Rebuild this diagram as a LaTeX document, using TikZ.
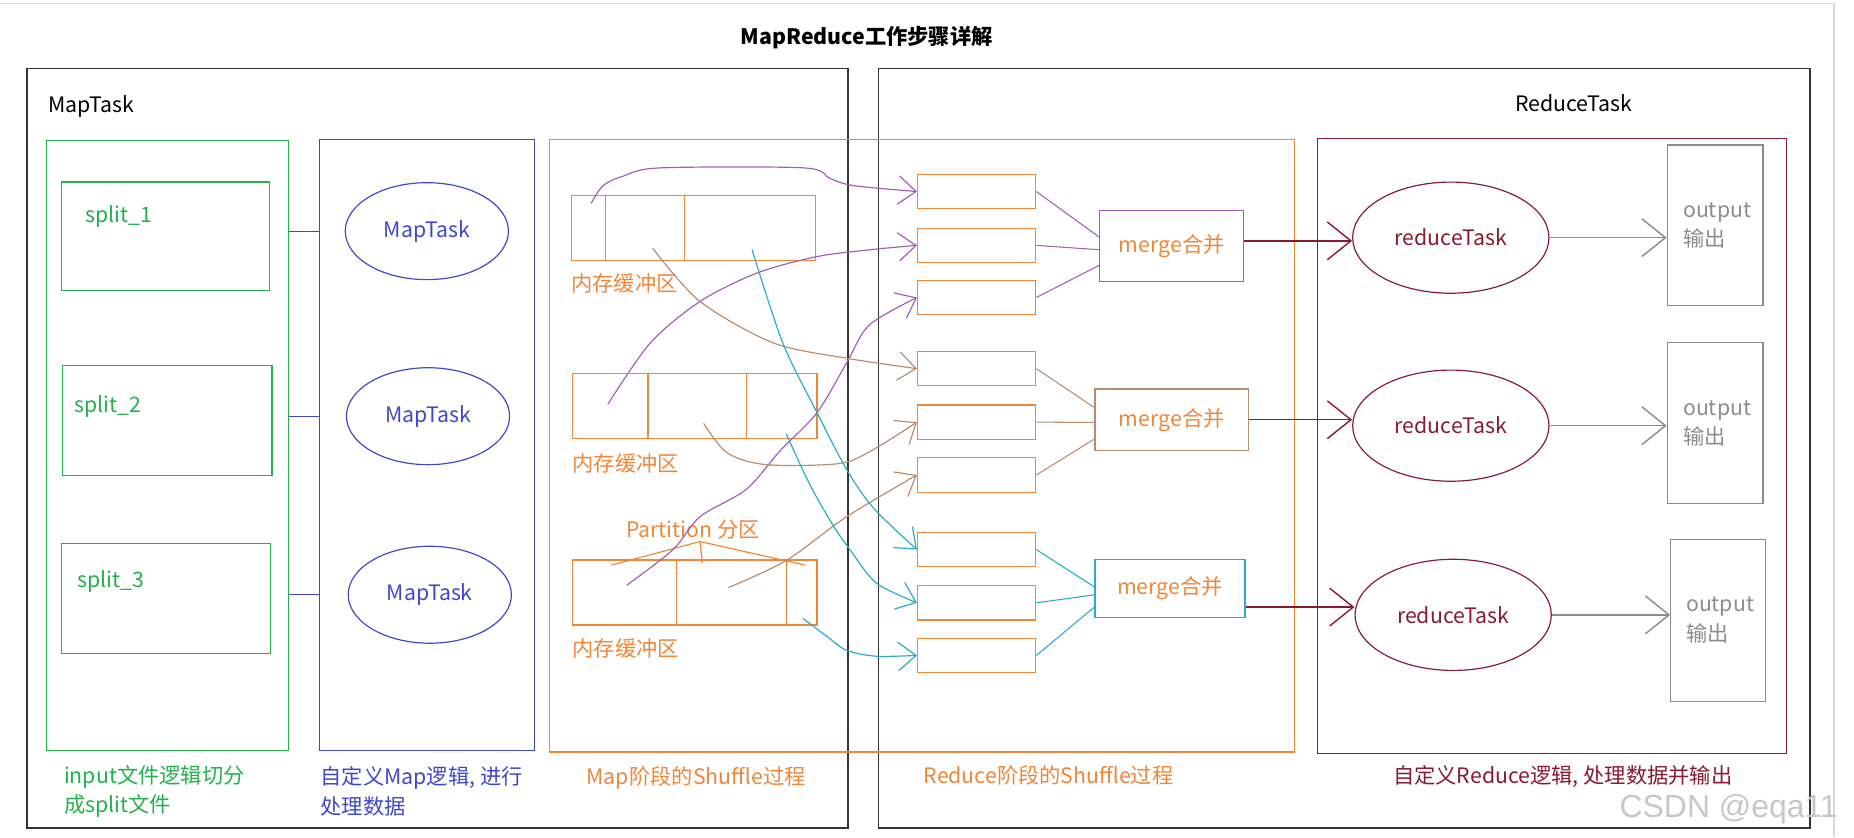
\documentclass[tikz,border=0pt]{standalone}
\usepackage{fontspec}
\setmainfont{Noto Sans CJK SC}
\newfontfamily\markfont{Liberation Sans}
\usetikzlibrary{arrows.meta,shapes.geometric}
\definecolor{mrgreen}{RGB}{34,177,76}
\definecolor{mrblue}{RGB}{63,72,204}
\definecolor{mrorange}{RGB}{240,134,56}
\definecolor{mrpurple}{RGB}{163,95,181}
\definecolor{mrbrown}{RGB}{185,140,110}
\definecolor{mrcyan}{RGB}{40,172,200}
\definecolor{mrmaroon}{RGB}{136,26,50}
\definecolor{mrgray}{RGB}{140,140,140}
\begin{document}
\begin{tikzpicture}
    [x=1pt, y=-1pt,
      every node/.style={font=\fontsize{18}{25}\selectfont, inner sep=0pt},
      outer/.style={draw=black!80, rectangle, line width=1.4pt},
      box/.style={draw, rectangle, line width=1pt},
      task/.style={draw, ellipse, line width=1pt},
      divider/.style={mrorange, line width=1pt},
      joinline/.style={line width=0.9pt},
      shuffle/.style={line width=1pt, -{Straight Barb[length=15pt, width=24pt]}},
      bigarrow/.style={line width=1.2pt, -{Straight Barb[length=20pt, width=32pt]}}]
    \useasboundingbox (0,0) rectangle (1568,708);
    \draw[black!15, line width=1.5pt] (0,3) -- (1551,3) -- (1551,708);
    \node[font=\fontsize{18}{25}\selectfont\bfseries] (title) at (733,32) {MapReduce工作步骤详解};

    \node[outer, minimum width=694pt, minimum height=642pt] (maptask) at (370,379) {};
    \node[outer, minimum width=788pt, minimum height=642pt] (reducetask) at (1137,379) {};
    \node[anchor=west] (maptasklabel) at (41,90) {MapTask};
    \node (reducetasklabel) at (1331,87) {ReduceTask};

    \node[box, draw=mrgreen, minimum width=205pt, minimum height=516pt] (input) at (141.5,377) {};
    \node[box, draw=mrgreen, minimum width=176pt, minimum height=92pt] (split1) at (140,200) {};
    \node[box, draw=mrgreen, minimum width=177pt, minimum height=93pt] (split2) at (141.5,355.5) {};
    \node[box, draw=mrgreen, minimum width=177pt, minimum height=93pt] (split3) at (140.5,506.5) {};
    \node[anchor=west, text=mrgreen] (split1name) at (72,183) {split\_1};
    \node[anchor=west, text=mrgreen] (split2name) at (63,344) {split\_2};
    \node[anchor=west, text=mrgreen] (split3name) at (65,492) {split\_3};
    \node[anchor=north west, align=left, text=mrgreen] (inputlabel) at (54,647) {input文件逻辑切分\\成split文件};

    \node[box, draw=mrblue, minimum width=182pt, minimum height=517pt] (mapper) at (361,376.5) {};
    \node[task, draw=mrblue, text=mrblue, minimum width=138pt, minimum height=82pt] (mt1) at (361,195.5) {MapTask};
    \node[task, draw=mrblue, text=mrblue, minimum width=138pt, minimum height=82pt] (mt2) at (362,352) {MapTask};
    \node[task, draw=mrblue, text=mrblue, minimum width=138pt, minimum height=82pt] (mt3) at (363.5,503) {MapTask};
    \node[anchor=north west, align=left, text=mrblue] (mapperlabel) at (271,648) {自定义Map逻辑, 进行\\处理数据};
    \draw[mrblue, line width=1pt] (input.east |- mt1) -- (mapper.west |- mt1);
    \draw[mrblue, line width=1pt] (input.east |- mt2) -- (mapper.west |- mt2);
    \draw[mrblue, line width=1pt] (input.east |- mt3) -- (mapper.west |- mt3);

    \node[box, draw=mrorange, minimum width=630pt, minimum height=518pt] (shuffle) at (780,377) {};
    \node[anchor=north west, text=mrorange] (mapshufflelabel) at (496,648) {Map阶段的Shuffle过程};
    \node[anchor=north west, text=mrorange] (reduceshufflelabel) at (781,647) {Reduce阶段的Shuffle过程};

    \node[box, draw=mrorange, minimum width=207pt, minimum height=55pt] (buf1) at (586.5,192.5) {};
    \node[box, draw=mrorange, minimum width=207pt, minimum height=55pt] (buf2) at (587.5,343.2) {};
    \node[box, draw=mrorange, minimum width=207pt, minimum height=55pt] (buf3) at (587.5,501.1) {};
    \draw[divider] (512,0 |- buf1.north) -- (512,0 |- buf1.south);
    \draw[divider] (579,0 |- buf1.north) -- (579,0 |- buf1.south);
    \draw[divider] (548,0 |- buf2.north) -- (548,0 |- buf2.south);
    \draw[divider] (631,0 |- buf2.north) -- (631,0 |- buf2.south);
    \draw[divider] (572,0 |- buf3.north) -- (572,0 |- buf3.south);
    \draw[divider] (665,0 |- buf3.north) -- (665,0 |- buf3.south);
    \node[anchor=west, text=mrorange] (buf1label) at (483,240) {内存缓冲区};
    \node[anchor=west, text=mrorange] (buf2label) at (484,392) {内存缓冲区};
    \node[anchor=west, text=mrorange] (buf3label) at (484,548) {内存缓冲区};
    \node[text=mrorange] (partition) at (586,448) {Partition 分区};
    \draw[divider] (517,478) -- (592,458) -- (681,478);
    \draw[divider] (592,458) -- (594,476);

    \node[box, draw=mrorange, minimum width=100pt, minimum height=29pt] (r1) at (826,162) {};
    \node[box, draw=mrorange, minimum width=100pt, minimum height=29pt] (r2) at (826,207.5) {};
    \node[box, draw=mrorange, minimum width=100pt, minimum height=29pt] (r3) at (826,251.6) {};
    \node[box, draw=mrorange, minimum width=100pt, minimum height=29pt] (r4) at (826,311.8) {};
    \node[box, draw=mrorange, minimum width=100pt, minimum height=29pt] (r5) at (826,357) {};
    \node[box, draw=mrorange, minimum width=100pt, minimum height=29pt] (r6) at (826,401.7) {};
    \node[box, draw=mrorange, minimum width=100pt, minimum height=29pt] (r7) at (826,464.8) {};
    \node[box, draw=mrorange, minimum width=100pt, minimum height=29pt] (r8) at (826,509.8) {};
    \node[box, draw=mrorange, minimum width=100pt, minimum height=29pt] (r9) at (826,554.3) {};

    \node[box, draw=mrpurple, text=mrorange, minimum width=122pt, minimum height=60pt] (m1) at (991,208) {merge合并};
    \node[box, draw=mrbrown, text=mrorange, minimum width=130pt, minimum height=52pt] (m2) at (991,355) {merge合并};
    \node[box, draw=mrcyan, text=mrorange, minimum width=127pt, minimum height=49pt] (m3) at (989.5,497.5) {merge合并};
    \draw[joinline, mrpurple] (r1.east) -- (m1.173);
    \draw[joinline, mrpurple] (r2.east) -- (m1.183);
    \draw[joinline, mrpurple] (r3.east) -- (m1.195);
    \draw[joinline, mrbrown] (r4.east) -- (m2.171);
    \draw[joinline, mrbrown] (r5.east) -- (m2.182);
    \draw[joinline, mrbrown] (r6.east) -- (m2.194);
    \draw[joinline, mrcyan] (r7.east) -- (m3.179);
    \draw[joinline, mrcyan] (r8.east) -- (m3.185);
    \draw[joinline, mrcyan] (r9.east) -- (m3.194);

    \node[box, draw=mrmaroon, minimum width=397pt, minimum height=520pt] (reducer) at (1312.5,377) {};
    \node[task, draw=mrmaroon, text=mrmaroon, minimum width=166pt, minimum height=94pt] (rt1) at (1227,201) {reduceTask};
    \node[task, draw=mrmaroon, text=mrmaroon, minimum width=166pt, minimum height=94pt] (rt2) at (1227,360) {reduceTask};
    \node[task, draw=mrmaroon, text=mrmaroon, minimum width=166pt, minimum height=94pt] (rt3) at (1229,520) {reduceTask};
    \node[anchor=north west, text=mrmaroon] (reducerlabel) at (1178,647) {自定义Reduce逻辑, 处理数据并输出};
    \draw[bigarrow, mrmaroon] (m1.4) -- (m1.4 -| rt1.west);
    \draw[bigarrow, mrmaroon] (m2.east) -- (m2.east -| rt2.west);
    \draw[bigarrow, mrmaroon] (m3.346) -- (m3.346 -| rt3.west);

    \node[box, draw=mrgray, text=mrgray, minimum width=81pt, minimum height=136pt, align=left, text width=54pt] (out1) at (1450.5,190.7) {output\\输出};
    \node[box, draw=mrgray, text=mrgray, minimum width=81pt, minimum height=136pt, align=left, text width=54pt] (out2) at (1450.5,358) {output\\输出};
    \node[box, draw=mrgray, text=mrgray, minimum width=80pt, minimum height=137pt, align=left, text width=54pt] (out3) at (1453,524.5) {output\\输出};
    \draw[bigarrow, mrgray] (rt1.east) -- (rt1.east -| out1.west);
    \draw[bigarrow, mrgray] (rt2.east) -- (rt2.east -| out2.west);
    \draw[bigarrow, mrgray] (rt3.east) -- (rt3.east -| out3.west);

    \coordinate (p1) at (500,172);
    \coordinate (p2) at (514,342);
    \coordinate (p3) at (530,495);
    \coordinate (q1) at (552,210);
    \coordinate (q2) at (595,358);
    \coordinate (q3) at (616,497);
    \coordinate (c1) at (636,211);
    \coordinate (c2) at (665,367);
    \coordinate (c3) at (679,523);
    \draw[shuffle, mrpurple] plot[smooth] coordinates {(p1) (510,157) (527,149) (558,142) (680,142) (702,151) (722,157) (r1.west)};
    \draw[shuffle, mrpurple] plot[smooth] coordinates {(p2) (550,290) (592,255) (640,231) (691,217) (738,211) (r2.west)};
    \draw[shuffle, mrpurple] plot[smooth] coordinates {(p3) (569,465) (592,437) (631,414) (660,381) (691,349) (716,307) (735,275) (r3.west)};
    \draw[shuffle, mrbrown] plot[smooth] coordinates {(q1) (592,255) (654,290) (716,303) (r4.west)};
    \draw[shuffle, mrbrown] plot[smooth] coordinates {(q2) (615,383) (648,393) (710,392) (739,380) (r5.west)};
    \draw[shuffle, mrbrown] plot[smooth] coordinates {(q3) (665,474) (716,437) (r6.west)};
    \draw[shuffle, mrcyan] plot[smooth] coordinates {(c1) (662,290) (691,349) (716,397) (739,430) (r7.west)};
    \draw[shuffle, mrcyan] plot[smooth] coordinates {(c2) (685,410) (705,445) (719,465) (741,493) (r8.west)};
    \draw[shuffle, mrcyan] plot[smooth] coordinates {(c3) (699,538) (716,550) (741,555) (r9.west)};

    \node[text=black!22, font=\markfont\fontsize{27}{30}\selectfont] (mark) at (1462,684) {CSDN @eqa11};
  \end{tikzpicture}
\end{document}
